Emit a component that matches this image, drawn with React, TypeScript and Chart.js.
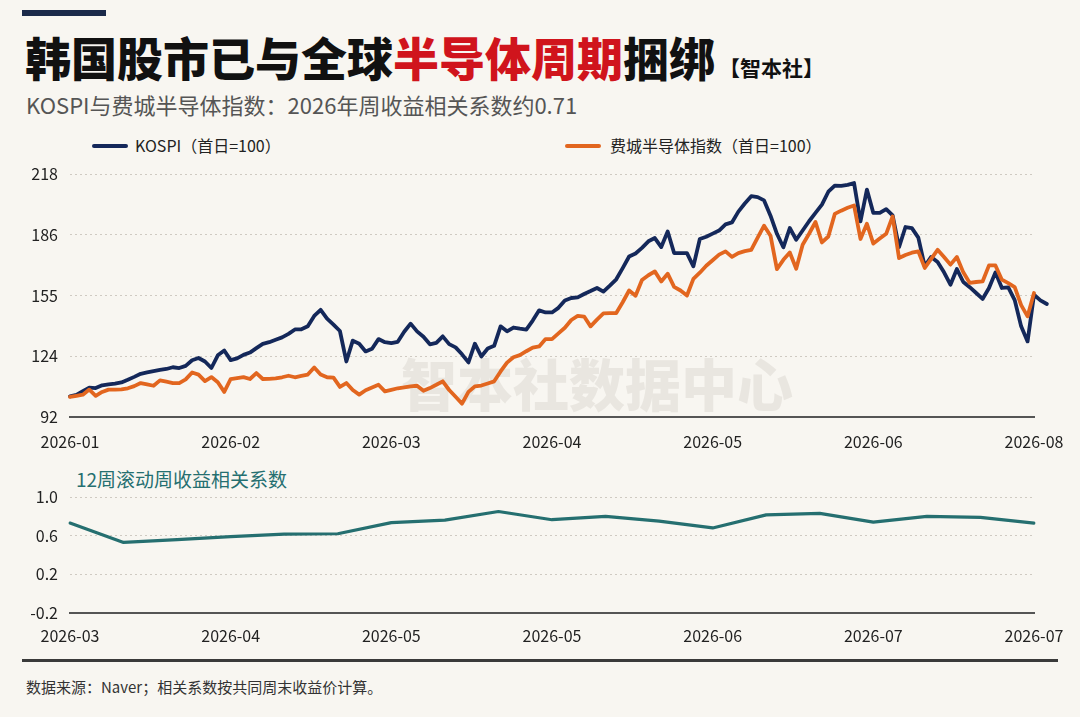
import React, { useEffect, useRef } from "react";
import { Chart, registerables } from "chart.js";

Chart.register(...registerables);

const FONT = '"Noto Sans CJK SC", "Noto Sans", sans-serif';
const BG = "#f8f6f1";
const NAVY = "#14285a";
const ORANGE = "#e2661f";
const TEAL = "#256f70";

// KOSPI, first day = 100 (daily points)
const kospi = [
  102.7, 103.5, 105.4, 107.2, 107.0, 108.4, 108.9, 109.3, 109.9, 111.3,
  112.8, 114.4, 115.1, 115.8, 116.4, 116.9, 117.8, 117.4, 118.5, 121.4,
  122.6, 120.8, 117.4, 124.0, 126.5, 121.5, 122.4, 124.2, 125.4, 127.7,
  129.9, 130.8, 132.1, 133.3, 135.1, 137.4, 137.5, 139.1, 144.4, 147.6,
  143.0, 139.9, 136.6, 120.8, 131.6, 130.0, 126.0, 127.4, 132.4, 130.8,
  130.3, 131.0, 136.2, 140.4, 136.4, 133.6, 129.7, 130.4, 133.8, 129.8,
  128.1, 124.5, 120.3, 130.0, 123.4, 127.5, 128.9, 139.0, 136.4, 138.4,
  137.8, 137.3, 142.0, 147.3, 146.2, 146.2, 148.6, 152.4, 153.7, 154.0,
  155.8, 157.3, 158.9, 157.0, 160.1, 163.4, 169.2, 175.2, 176.8, 179.7,
  183.1, 184.8, 180.1, 188.2, 177.0, 177.0, 177.0, 170.1, 184.3, 185.5,
  187.1, 188.7, 191.9, 192.9, 198.5, 202.7, 206.5, 206.0, 204.3, 196.4,
  187.0, 180.0, 190.0, 183.9, 188.7, 193.5, 197.8, 202.1, 208.8, 212.0,
  211.8, 212.4, 213.3, 193.4, 209.9, 197.8, 197.8, 199.8, 196.5, 180.1,
  190.5, 189.9, 185.0, 170.1, 175.0, 172.4, 167.0, 160.6, 168.7, 162.0,
  159.3, 156.3, 153.2, 158.9, 167.0, 158.9, 159.2, 152.6, 139.0, 131.2,
  155.4, 152.5, 150.6,
];

// Philadelphia Semiconductor index, first day = 100
const sox = [
  102.4, 103.0, 103.6, 106.2, 103.0, 105.0, 106.2, 106.2, 106.3, 106.9,
  108.0, 109.6, 108.9, 108.2, 111.0, 110.3, 109.6, 109.6, 111.5, 115.1,
  114.0, 110.6, 112.7, 110.0, 105.0, 111.7, 112.2, 112.7, 111.7, 114.8,
  111.7, 111.8, 112.0, 112.6, 113.4, 112.6, 113.3, 114.0, 117.7, 114.0,
  112.6, 112.4, 107.6, 109.6, 106.0, 103.6, 105.9, 107.3, 108.7, 105.3,
  106.1, 106.9, 107.4, 107.9, 108.2, 105.6, 107.0, 108.7, 110.5, 106.0,
  102.5, 98.9, 105.0, 107.9, 108.3, 109.4, 110.5, 115.6, 120.2, 123.0,
  124.1, 126.1, 128.0, 128.6, 132.4, 132.4, 135.4, 138.3, 142.3, 144.4,
  144.1, 139.0, 142.5, 145.7, 145.9, 145.9, 151.5, 157.6, 154.9, 163.0,
  165.5, 167.5, 162.3, 166.3, 159.5, 157.6, 155.0, 163.6, 166.8, 170.4,
  173.3, 176.2, 177.9, 175.0, 177.0, 178.0, 178.7, 185.0, 191.2, 186.0,
  168.7, 173.5, 177.3, 168.9, 181.3, 187.0, 193.1, 182.5, 185.6, 197.3,
  199.0, 200.5, 201.7, 184.3, 192.2, 181.9, 184.5, 187.0, 196.0, 174.4,
  176.0, 177.2, 177.9, 169.3, 174.0, 178.7, 175.0, 171.0, 175.0, 167.0,
  161.5, 162.0, 162.3, 170.6, 170.6, 163.2, 161.4, 159.4, 150.0, 144.2,
  156.3,
];

const topTickLabels = ["2026-01", "2026-02", "2026-03", "2026-04", "2026-05", "2026-06", "2026-08"];
const topTickStep = 25;
const topYTicks = [92, 123.5, 155, 186.5, 218];
const topYLabels = ["92", "124", "155", "186", "218"];

// 12-week rolling correlation of weekly returns
const corr = [0.73, 0.53, 0.56, 0.59, 0.615, 0.62, 0.735, 0.76, 0.85, 0.765, 0.8, 0.75, 0.68, 0.815, 0.83, 0.74, 0.8, 0.79, 0.73];
const corrTickLabels = ["2026-03", "2026-04", "2026-05", "2026-05", "2026-06", "2026-07", "2026-07"];
const corrTickStep = 3;
const corrYTicks = [-0.2, 0.2, 0.6, 1.0];
const corrYLabels = ["-0.2", "0.2", "0.6", "1.0"];

const tickFont = { family: FONT, size: 16 };
const GRID = "#cfcac2";

function makeXScale(labels: string[], step: number, height: number, pad: number) {
  return {
    type: "linear",
    bounds: "data",
    afterDataLimits: (s: any) => {
      s.min = 0;
      s.max = (labels.length - 1) * step;
    },
    afterBuildTicks: (s: any) => {
      s.ticks = labels.map((_, i) => ({ value: i * step }));
    },
    afterFit: (s: any) => {
      s.height = height;
      s.paddingLeft = 0;
      s.paddingRight = 0;
    },
    ticks: {
      callback: (v: any) => labels[Math.round(Number(v) / step)] ?? "",
      font: tickFont,
      color: "#222",
      padding: pad,
      maxRotation: 0,
      autoSkip: false,
    },
    grid: { display: false, drawTicks: false },
    border: { display: true, color: "#555", width: 2 },
  };
}

function makeYScale(min: number, max: number, ticks: number[], labels: string[]) {
  return {
    type: "linear",
    min,
    max,
    afterBuildTicks: (s: any) => {
      s.ticks = ticks.map((v) => ({ value: v }));
    },
    afterFit: (s: any) => {
      s.width = 70;
      s.paddingTop = 0;
      s.paddingBottom = 0;
    },
    ticks: {
      callback: (_v: any, i: number) => labels[i],
      font: tickFont,
      color: "#222",
      padding: 12,
    },
    grid: {
      drawTicks: false,
      lineWidth: 1,
      color: (c: any) => (c.index === 0 ? "rgba(0,0,0,0)" : GRID),
    },
    border: { display: false, dash: [2, 3] },
  };
}

export default function App() {
  const topRef = useRef<HTMLCanvasElement>(null);
  const botRef = useRef<HTMLCanvasElement>(null);

  useEffect(() => {
    document.body.style.margin = "0";
    document.body.style.background = BG;
    Chart.defaults.font.family = FONT;

    const lineStyle = {
      pointRadius: 0,
      tension: 0,
      borderJoinStyle: "round",
      borderCapStyle: "round",
    };

    const top = new Chart(topRef.current!, {
      type: "line",
      data: {
        datasets: [
          {
            label: "费城半导体指数（首日=100）",
            data: sox.map((v, i) => ({ x: i, y: v })),
            borderColor: ORANGE,
            borderWidth: 3.8,
            clip: false,
            ...lineStyle,
          },
          {
            label: "KOSPI（首日=100）",
            data: kospi.map((v, i) => ({ x: i, y: v })),
            borderColor: NAVY,
            borderWidth: 3.8,
            clip: false,
            ...lineStyle,
          },
        ],
      },
      options: {
        animation: false,
        responsive: false,
        events: [],
        layout: { padding: { left: 0, right: 46, top: 14, bottom: 0 } },
        plugins: { legend: { display: false }, tooltip: { enabled: false } },
        scales: {
          x: makeXScale(topTickLabels, topTickStep, 43, 15),
          y: makeYScale(92, 218, topYTicks, topYLabels),
        },
      } as any,
    } as any);

    const bot = new Chart(botRef.current!, {
      type: "line",
      data: {
        datasets: [
          {
            label: "12周滚动周收益相关系数",
            data: corr.map((v, i) => ({ x: i, y: v })),
            borderColor: TEAL,
            borderWidth: 3.2,
            ...lineStyle,
          },
        ],
      },
      options: {
        animation: false,
        responsive: false,
        events: [],
        layout: { padding: { left: 0, right: 46, top: 12, bottom: 0 } },
        plugins: { legend: { display: false }, tooltip: { enabled: false } },
        scales: {
          x: makeXScale(corrTickLabels, corrTickStep, 37, 13),
          y: makeYScale(-0.2, 1.0, corrYTicks, corrYLabels),
        },
      } as any,
    } as any);

    return () => {
      top.destroy();
      bot.destroy();
    };
  }, []);

  const abs = (s: React.CSSProperties): React.CSSProperties => ({ position: "absolute", margin: 0, ...s });

  return (
    <div
      style={{
        position: "absolute",
        left: 0,
        top: 0,
        width: 1080,
        height: 717,
        background: BG,
        overflow: "hidden",
        fontFamily: FONT,
      }}
    >
      <div style={abs({ left: 22, top: 10, width: 84, height: 6, background: "#1b2a4a" })} />
      <div
        style={abs({
          left: 25,
          top: 33,
          fontSize: 46,
          lineHeight: "46px",
          fontWeight: 900,
          color: "#111",
          whiteSpace: "nowrap",
        })}
      >
        韩国股市已与全球<span style={{ color: "#d0141c" }}>半导体周期</span>捆绑
        <span style={{ fontSize: 21, fontWeight: 700, marginLeft: 4 }}>【智本社】</span>
      </div>
      <div style={abs({ left: 26, top: 93, fontSize: 22, lineHeight: "22px", color: "#555", whiteSpace: "nowrap" })}>
        KOSPI与费城半导体指数：2026年周收益相关系数约0.71
      </div>

      {/* legend */}
      <div style={abs({ left: 92, top: 144, width: 36, height: 4, borderRadius: 2, background: NAVY })} />
      <div style={abs({ left: 135, top: 137, fontSize: 16, lineHeight: "16px", color: "#222", whiteSpace: "nowrap" })}>
        KOSPI（首日=100）
      </div>
      <div style={abs({ left: 565, top: 144, width: 36, height: 4, borderRadius: 2, background: ORANGE })} />
      <div style={abs({ left: 610, top: 137, fontSize: 16, lineHeight: "16px", color: "#222", whiteSpace: "nowrap" })}>
        费城半导体指数（首日=100）
      </div>

      {/* watermark */}
      <div
        style={abs({
          left: 401,
          top: 354,
          fontSize: 56,
          lineHeight: "56px",
          fontWeight: 900,
          color: "#e9e6e0",
          whiteSpace: "nowrap",
        })}
      >
        智本社数据中心
      </div>

      <canvas ref={topRef} width={1080} height={300} style={abs({ left: 0, top: 160, width: 1080, height: 300 })} />

      <div style={abs({ left: 76, top: 469, fontSize: 19, lineHeight: "19px", color: TEAL, whiteSpace: "nowrap" })}>
        12周滚动周收益相关系数
      </div>
      <canvas ref={botRef} width={1080} height={165} style={abs({ left: 0, top: 485, width: 1080, height: 165 })} />

      <div style={abs({ left: 22, top: 659, width: 1036, height: 3, background: "#3a3a3a" })} />
      <div style={abs({ left: 26, top: 679, fontSize: 15, lineHeight: "15px", color: "#333", whiteSpace: "nowrap" })}>
        数据来源：Naver；相关系数按共同周末收益价计算。
      </div>
    </div>
  );
}
